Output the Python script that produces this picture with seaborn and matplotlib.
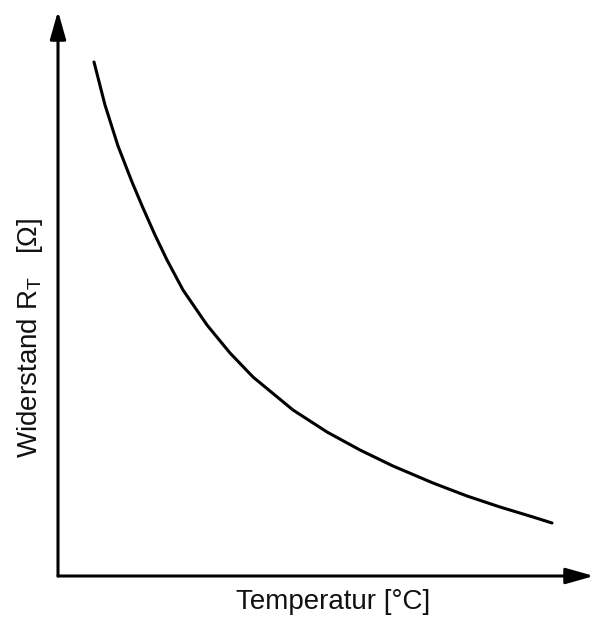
import matplotlib
matplotlib.use("Agg")
import matplotlib.pyplot as plt
import seaborn as sns
import pandas as pd

# values (arbitrary units, origin at the axis corner)
temperatur = [36, 47, 60, 74, 85, 97, 109, 125, 149, 172,
              195, 235, 269, 302, 335, 375, 409, 442, 475, 494]
widerstand = [514, 471, 430, 394, 368, 341, 316, 286, 251, 223,
              199, 166, 144, 126, 110, 93, 80, 69, 59, 53]

x_label = "Temperatur [°C]"
y_label = r"Widerstand R$_\mathrm{T}$   [Ω]"

sns.set_style("white")
plt.rcParams["font.family"] = ["Liberation Sans", "DejaVu Sans"]
plt.rcParams["mathtext.fontset"] = "custom"
plt.rcParams["mathtext.rm"] = "Liberation Sans"
plt.rcParams["mathtext.it"] = "Liberation Sans:italic"

df = pd.DataFrame({"T": temperatur, "R": widerstand})

W, H = 594, 621
fig = plt.figure(figsize=(W / 100, H / 100), dpi=100)
ax = fig.add_axes([58 / W, (H - 576) / H, 1 - 58 / W, (576 - 11) / H])

sns.lineplot(data=df, x="T", y="R", ax=ax, color="black", linewidth=2.2,
             solid_joinstyle="round", solid_capstyle="round")
ax.set_xlim(0, 536)
ax.set_ylim(0, 565)

for s in ax.spines.values():
    s.set_visible(False)
ax.set_xticks([])
ax.set_yticks([])
ax.set_xlabel("")
ax.set_ylabel("")

# axes with arrow heads
arrow = dict(arrowstyle="-|>,head_length=0.85,head_width=0.24", color="black",
             lw=2.2, shrinkA=0, shrinkB=0, mutation_scale=20)
ax.annotate("", xy=(1, 0), xytext=(0, 0), xycoords="axes fraction",
            arrowprops=arrow, annotation_clip=False)
ax.annotate("", xy=(0, 1), xytext=(0, 0), xycoords="axes fraction",
            arrowprops=arrow, annotation_clip=False)

fig.text(333 / W, 1 - 602 / H, x_label, fontsize=20, color="#111111",
         ha="center", va="center")
fig.text(30 / W, 1 - 338 / H, y_label, fontsize=20, color="#111111",
         ha="center", va="center", rotation=90)

fig.savefig("out.png", dpi=100, facecolor="white")
